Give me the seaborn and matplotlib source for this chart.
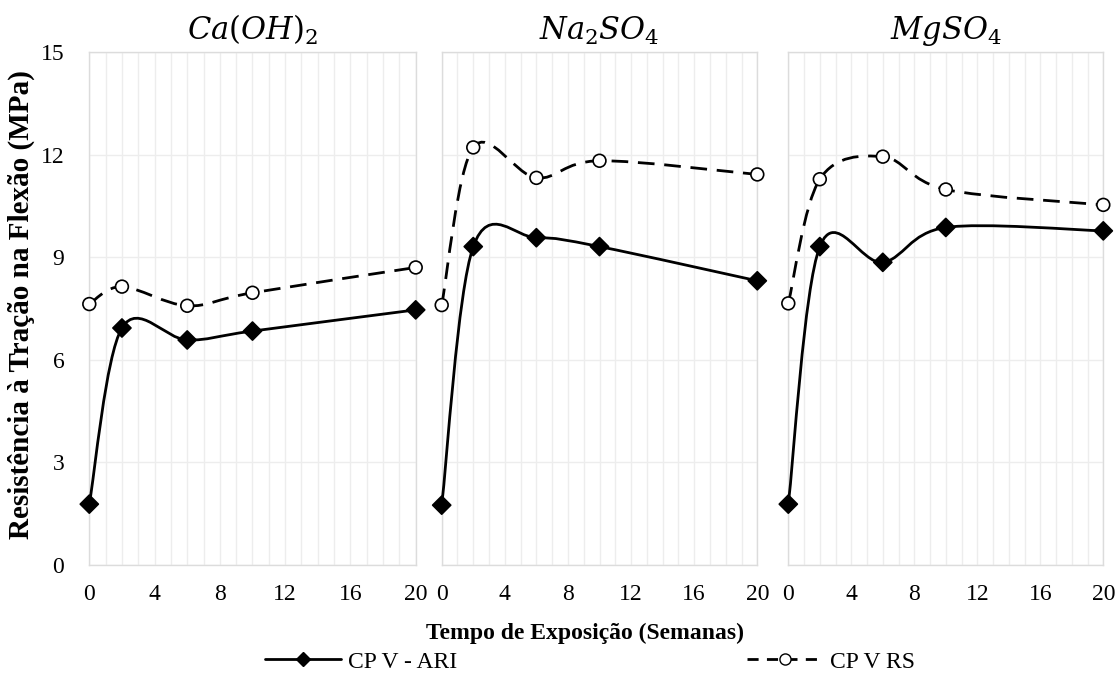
import numpy as np
import pandas as pd
import matplotlib
matplotlib.use("Agg")
import matplotlib.pyplot as plt
from matplotlib.path import Path
from matplotlib.patches import PathPatch
from matplotlib.lines import Line2D
import seaborn as sns

# ---- data ----
weeks = [0, 2, 6, 10, 20]
panels = ["Ca(OH)2", "Na2SO4", "MgSO4"]
titles = [r"$Ca(OH)_2$", r"$Na_2SO_4$", r"$MgSO_4$"]
ari_caoh2 = [1.78, 6.93, 6.58, 6.84, 7.46]
ari_na2so4 = [1.75, 9.31, 9.57, 9.31, 8.31]
ari_mgso4 = [1.78, 9.31, 8.85, 9.87, 9.77]
rs_caoh2 = [7.63, 8.14, 7.58, 7.96, 8.70]
rs_na2so4 = [7.60, 12.21, 11.32, 11.82, 11.42]
rs_mgso4 = [7.65, 11.28, 11.94, 10.98, 10.53]
series_names = ["CP V - ARI", "CP V RS"]
x_ticks = [0, 4, 8, 12, 16, 20]
y_ticks = [0, 3, 6, 9, 12, 15]

ari = {"Ca(OH)2": ari_caoh2, "Na2SO4": ari_na2so4, "MgSO4": ari_mgso4}
rs = {"Ca(OH)2": rs_caoh2, "Na2SO4": rs_na2so4, "MgSO4": rs_mgso4}
rows = []
for p in panels:
    for w, a, r in zip(weeks, ari[p], rs[p]):
        rows.append({"panel": p, "week": w, "serie": series_names[0], "value": a})
        rows.append({"panel": p, "week": w, "serie": series_names[1], "value": r})
df = pd.DataFrame(rows)

sns.set_theme(style="white")
plt.rcParams["font.family"] = ["Liberation Serif", "DejaVu Serif"]
plt.rcParams["mathtext.fontset"] = "dejavuserif"
plt.rcParams["text.color"] = "black"
plt.rcParams["xtick.color"] = "black"
plt.rcParams["ytick.color"] = "black"
plt.rcParams["xtick.labelcolor"] = "black"
plt.rcParams["ytick.labelcolor"] = "black"

fig = plt.figure(figsize=(11.17, 6.75), dpi=100)
bottom, height = 1 - 565 / 675, (565 - 52) / 675
lefts = [89.3 / 1117, 441.7 / 1117, 788.3 / 1117]
widths = [326.4 / 1117, 315.6 / 1117, 315.0 / 1117]

grid_c = "#ededed"


def smooth_path(xs, ys):
    # Excel-style smoothed line: cubic Bezier through the data points
    xs = np.asarray(xs, float)
    ys = np.asarray(ys, float)
    pts = np.column_stack([xs, ys])
    n = len(pts)
    verts = [pts[0]]
    codes = [Path.MOVETO]
    for i in range(n - 1):
        p0 = pts[i - 1] if i > 0 else pts[i]
        p1 = pts[i]
        p2 = pts[i + 1]
        p3 = pts[i + 2] if i + 2 < n else pts[i + 1]
        c1 = p1 + (p2 - p0) / 6.0
        c2 = p2 - (p3 - p1) / 6.0
        verts += [c1, c2, p2]
        codes += [Path.CURVE4] * 3
    return Path(verts, codes)


line_styles = {series_names[0]: "-", series_names[1]: (0, (6, 3.5))}

for k, p in enumerate(panels):
    ax = fig.add_axes([lefts[k], bottom, widths[k], height])
    sub = df[df["panel"] == p]
    for s in series_names:
        d = sub[sub["serie"] == s]
        path = smooth_path(d["week"].values, d["value"].values)
        ax.add_patch(PathPatch(path, facecolor="none", edgecolor="black",
                               lw=2.0, linestyle=line_styles[s], zorder=3,
                               clip_on=False))
    sns.scatterplot(data=sub, x="week", y="value", hue="serie", style="serie",
                    markers={series_names[0]: "D", series_names[1]: "o"},
                    palette={series_names[0]: "black", series_names[1]: "white"},
                    edgecolor="black", linewidth=1.2, s=85, legend=False,
                    ax=ax, zorder=4, clip_on=False)
    ax.set_xlim(0, 20)
    ax.set_ylim(0, 15)
    ax.set_yticks(y_ticks)
    ax.grid(axis="y", color=grid_c, lw=1.0)
    ax.set_xticks(np.arange(0, 21, 1))
    ax.grid(axis="x", color=grid_c, lw=1.0)
    ax.set_axisbelow(True)
    ax.set_xticklabels([str(v) if v in x_ticks else "" for v in range(21)],
                       fontsize=17)
    ax.tick_params(axis="both", length=0, pad=14)
    if k == 0:
        ax.set_yticklabels([str(v) for v in y_ticks], fontsize=17)
        ax.tick_params(axis="y", pad=18)
    else:
        ax.set_yticklabels([])
    ax.set_xlabel("")
    ax.set_ylabel("")
    for sp in ax.spines.values():
        sp.set_color("#dcdcdc")
        sp.set_linewidth(1.0)
    ax.set_title(titles[k], fontsize=22, pad=9, color="black")

fig.text(0.019, 1 - 305 / 675, "Resistência à Tração na Flexão (MPa)",
         rotation=90, ha="center", va="center", fontsize=21, fontweight="bold")
fig.text(585 / 1117, 1 - 633 / 675, "Tempo de Exposição (Semanas)",
         ha="center", va="center", fontsize=17, fontweight="bold")

handles = [
    Line2D([], [], color="black", lw=2, ls="-", marker="D", ms=7,
           mfc="black", mec="black"),
    Line2D([], [], color="black", lw=2, ls=(0, (4, 3)), marker="o", ms=8,
           mfc="white", mec="black"),
]
fig.legend(handles, series_names, loc="center", ncol=2,
           bbox_to_anchor=(590 / 1117, 1 - 662 / 675), frameon=False,
           fontsize=17, handlelength=3.2, columnspacing=12.3, handletextpad=0.3,
           borderaxespad=0, borderpad=0)

fig.savefig("out.png", dpi=100)
